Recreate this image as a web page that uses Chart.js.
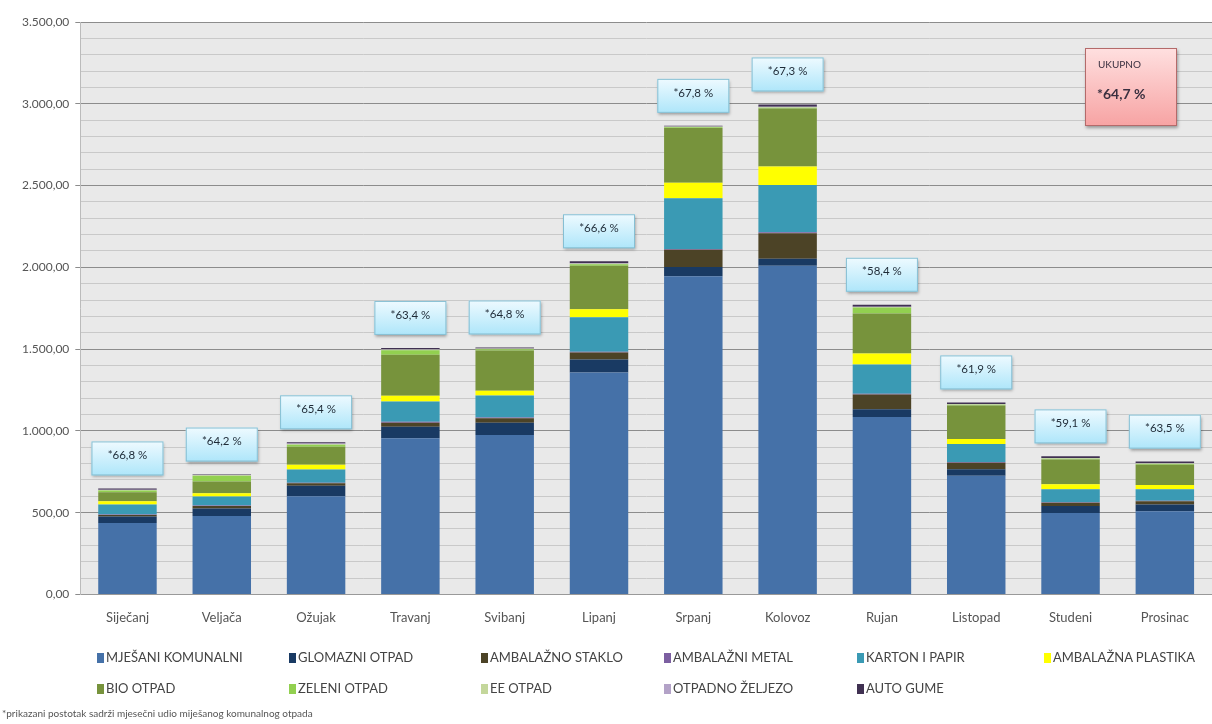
<!DOCTYPE html>
<html>
<head>
<meta charset="utf-8">
<script src="https://cdn.jsdelivr.net/npm/chart.js@4"></script>
<style>
  body { margin: 0; background: #fff; font-family: Lato, "Open Sans", sans-serif; }
  #wrap { position: relative; width: 1212px; height: 724px; }
  #legenda { position: absolute; left: 97px; top: 649px; display: grid;
    grid-template-columns: 192px 192px 183px 193px 187px 170px; row-gap: 15px;
    font-size: 13px; color: #444; }
  #legenda span.k { display: inline-block; width: 7px; height: 10px; margin-right: 2px; vertical-align: -1px; }
  #napomena { position: absolute; left: 2px; top: 707px; font-size: 10px; color: #555; }
</style>
</head>
<body>
<div id="wrap">
  <canvas id="grafikon" width="1212" height="724"></canvas>
  <div id="legenda"></div>
  <div id="napomena">*prikazani postotak sadrži mjesečni udio miješanog komunalnog otpada</div>
</div>
<script>
var mjeseci = ["Siječanj","Veljača","Ožujak","Travanj","Svibanj","Lipanj","Srpanj","Kolovoz","Rujan","Listopad","Studeni","Prosinac"];

var mjesaniKomunalni = [437, 480, 600, 955, 975, 1357, 1945, 2010, 1085, 725, 498, 509];
var glomazniOtpad    = [40, 45, 65, 70, 75, 80, 57, 42, 47, 40, 42, 41];
var ambStaklo        = [8, 15, 15, 25, 27, 42, 105, 157, 90, 40, 20, 20];
var ambMetal         = [3, 3, 3, 5, 4, 4, 5, 5, 5, 4, 3, 3];
var kartonPapir      = [62, 55, 80, 125, 135, 211, 310, 290, 178, 110, 80, 70];
var ambPlastika      = [20, 20, 30, 35, 30, 50, 95, 112, 68, 31, 30, 26];
var bioOtpad         = [55, 72, 110, 250, 245, 265, 335, 355, 245, 205, 152, 123];
var zeleniOtpad      = [10, 35, 12, 28, 8, 10, 5, 5, 36, 5, 5, 6];
var eeOtpad          = [3, 3, 3, 3, 3, 3, 2, 3, 3, 2, 2, 2];
var otpadnoZeljezo   = [2, 2, 4, 3, 2, 3, 2, 3, 2, 2, 2, 2];
var autoGume         = [8, 3, 8, 8, 6, 12, 4, 14, 12, 10, 10, 10];

var postoci = ["66,8","64,2","65,4","63,4","64,8","66,6","67,8","67,3","58,4","61,9","59,1","63,5"];
var ukupno = "64,7";

var yTicks = [0, 500, 1000, 1500, 2000, 2500, 3000, 3500];

function formatBroj(n) {
	var s = Math.round(n).toString().replace(/\B(?=(\d{3})+(?!\d))/g, ".");
	return s + ",00";
}

var skupovi = [
	{ label: "MJEŠANI KOMUNALNI", data: mjesaniKomunalni, backgroundColor: "#4571a8" },
	{ label: "GLOMAZNI OTPAD", data: glomazniOtpad, backgroundColor: "#193a63" },
	{ label: "AMBALAŽNO STAKLO", data: ambStaklo, backgroundColor: "#4c4326" },
	{ label: "AMBALAŽNI  METAL", data: ambMetal, backgroundColor: "#7c5fa1" },
	{ label: "KARTON  I PAPIR", data: kartonPapir, backgroundColor: "#3a9ab4" },
	{ label: "AMBALAŽNA PLASTIKA", data: ambPlastika, backgroundColor: "#ffff00" },
	{ label: "BIO OTPAD", data: bioOtpad, backgroundColor: "#77933c" },
	{ label: "ZELENI OTPAD", data: zeleniOtpad, backgroundColor: "#92d050" },
	{ label: "EE OTPAD", data: eeOtpad, backgroundColor: "#c4d79b" },
	{ label: "OTPADNO ŽELJEZO", data: otpadnoZeljezo, backgroundColor: "#b3a2c7" },
	{ label: "AUTO GUME", data: autoGume, backgroundColor: "#403152" }
];

// pozadina podrucja grafa
var pozadina = {
	id: "pozadina",
	beforeDraw: function(chart) {
		var a = chart.chartArea, ctx = chart.ctx;
		ctx.save();
		ctx.fillStyle = "#e9e9e9";
		ctx.fillRect(a.left, a.top, a.right - a.left, a.bottom - a.top);
		ctx.restore();
	}
};

// okviri s postocima iznad stupaca + UKUPNO
var okviri = {
	id: "okviri",
	afterDatasetsDraw: function(chart) {
		var ctx = chart.ctx, y = chart.scales.y, x = chart.scales.x;
		ctx.save();
		for (var i = 0; i < mjeseci.length; i++) {
			var zbroj = 0;
			skupovi.forEach(function(s) { zbroj += s.data[i]; });
			var cx = x.getPixelForValue(i), vrh = y.getPixelForValue(zbroj);
			var w = 72, h = 34, bx = cx - w / 2, by = vrh - 13 - h;
			ctx.shadowColor = "rgba(0,0,0,0.35)";
			ctx.shadowBlur = 3; ctx.shadowOffsetX = 1; ctx.shadowOffsetY = 2;
			var g = ctx.createLinearGradient(0, by, 0, by + h);
			g.addColorStop(0, "#eefaff");
			g.addColorStop(1, "#aee6fa");
			ctx.fillStyle = g;
			ctx.fillRect(bx, by, w, h);
			ctx.shadowColor = "transparent";
			ctx.strokeStyle = "#86bfd3";
			ctx.lineWidth = 1;
			ctx.strokeRect(bx + 0.5, by + 0.5, w - 1, h - 1);
			ctx.fillStyle = "#1e2a36";
			ctx.font = "11.5px Lato, sans-serif";
			ctx.textAlign = "center"; ctx.textBaseline = "middle";
			ctx.fillText("*" + postoci[i] + " %", cx, by + h / 2 - 3);
		}
		// UKUPNO
		var ux = 1085, uy = 48, uw = 92, uh = 78;
		ctx.shadowColor = "rgba(0,0,0,0.35)";
		ctx.shadowBlur = 3; ctx.shadowOffsetX = 1; ctx.shadowOffsetY = 2;
		var g2 = ctx.createLinearGradient(0, uy, 0, uy + uh);
		g2.addColorStop(0, "#ffe0e0");
		g2.addColorStop(1, "#f7a3a3");
		ctx.fillStyle = g2;
		ctx.fillRect(ux, uy, uw, uh);
		ctx.shadowColor = "transparent";
		ctx.strokeStyle = "#b46a6a";
		ctx.strokeRect(ux + 0.5, uy + 0.5, uw - 1, uh - 1);
		ctx.fillStyle = "#3a3040";
		ctx.textAlign = "left"; ctx.textBaseline = "middle";
		ctx.font = "10px Lato, sans-serif";
		ctx.fillText("UKUPNO", ux + 13, uy + 17);
		ctx.font = "bold 14px Lato, sans-serif";
		ctx.fillText("*" + ukupno + " %", ux + 12, uy + 46);
		ctx.restore();
	}
};

var graf = new Chart(document.getElementById("grafikon").getContext("2d"), {
	type: "bar",
	data: { labels: mjeseci, datasets: skupovi },
	options: {
		responsive: false,
		animation: false,
		layout: { padding: { left: 16, right: 0, top: 22, bottom: 82 } },
		datasets: { bar: { categoryPercentage: 1, barPercentage: 0.62 } },
		plugins: { legend: { display: false }, tooltip: { enabled: false } },
		scales: {
			x: {
				stacked: true,
				grid: { display: false, drawTicks: false },
				border: { color: "#999" },
				ticks: { color: "#555", padding: 16, font: { family: "Lato", size: 13 } }
			},
			y: {
				stacked: true,
				min: 0, max: 3500,
				border: { color: "#bbb" },
				afterBuildTicks: function(ax) {
					var t = [];
					for (var v = 0; v <= 3500; v += 100) t.push({ value: v });
					ax.ticks = t;
				},
				grid: {
					tickLength: 5,
					color: function(c) { return c.tick && c.tick.value % 500 === 0 ? "#8c8c8c" : "#c9c9c9"; },
					tickColor: function(c) { return c.tick && c.tick.value % 500 === 0 ? "#8c8c8c" : "rgba(0,0,0,0)"; }
				},
				ticks: {
					color: "#555", padding: 6, font: { family: "Lato", size: 12 },
					autoSkip: false,
					callback: function(v) { return yTicks.indexOf(v) >= 0 ? formatBroj(v) : ""; }
				}
			}
		}
	},
	plugins: [pozadina, okviri]
});

// legenda
var leg = document.getElementById("legenda");
skupovi.forEach(function(s) {
	var d = document.createElement("div");
	d.innerHTML = '<span class="k" style="background:' + s.backgroundColor + '"></span>' + s.label;
	leg.appendChild(d);
});
</script>
</body>
</html>
